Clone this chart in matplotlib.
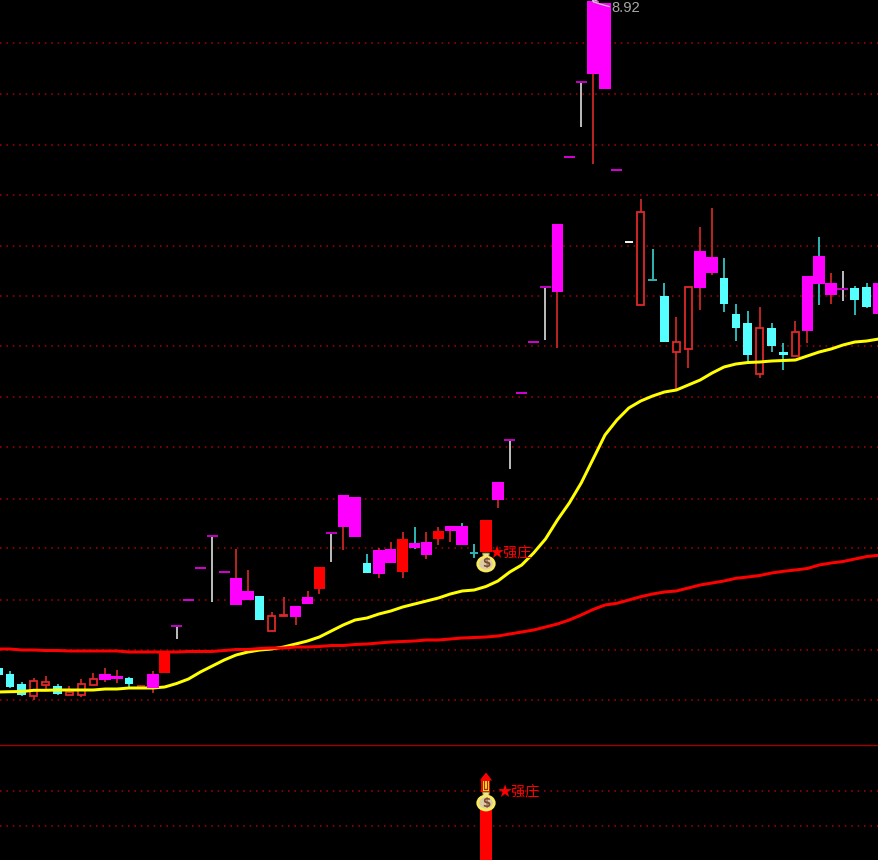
import matplotlib
matplotlib.use("Agg")
import matplotlib.pyplot as plt
import numpy as np
from matplotlib.patches import Ellipse, Polygon, Rectangle

plt.rcParams['font.family'] = ['Noto Sans CJK SC', 'DejaVu Sans']

# kinds: M magenta body, m magenta body + teal wick, C cyan body, R red solid, H hollow red,
# D magenta dash, F red dash, T grey stem + magenta cap, X teal stem + teal cap, W white dash
kinds = [
 'C','C','C','H','H','C','H','H','H','M','M','C','F','M','R','T','D','D','T','D','M','M','C','H','H','M',
 'M','R','T','M','M','C','M','M','R','m','M','R','M','m','X','R','M','T','D','D','T','M','D','T','M','M','D','W','H','X','C',
 'H','H','M','M','C','C','C','H','C','C','H','M','m','M','T','C','C','M']
body_top = [667.7,674.3,684.3,680.7,682,685.7,691.7,684.3,679.3,674.3,675.7,678,686,674.3,652,626,599.7,568.3,536,572.3,578.3,590.7,595.7,615.7,614.7,605.7,
 596.7,566.7,533.3,495.3,496.7,563,550.3,549.3,539.3,543,541.7,530.7,525.7,525.7,553.3,520.3,481.7,440,393.3,342,287,224.3,157,82.3,0.7,3.3,169.7,242,212,280,295.7,
 342.3,287,250.7,256.7,278.3,314.3,323.3,328.3,328.3,352,332.3,275.7,255.7,283.3,288.7,288.3,287,283.3]
body_bot = [675,686.7,695,696.3,685.3,694,695,695,685,680.3,679.3,684,686,687.7,672.7,626,599.7,568.3,536,572.3,605.3,600,620.3,631.3,616.3,616.7,
 604,589,533.3,526.7,536.7,572.7,574,563,571.7,548,555.3,539,531.3,545.3,553.3,552.3,500.3,440,393.3,342,287,291.7,157,82.3,73.7,89,169.7,242,305,280,341.7,
 352.3,348.7,287.7,272.7,304,327.7,355.3,373.7,346.3,355.3,356.3,331.3,283.7,295,288.7,300.3,306.7,314]
high = [664,670.7,682,678,675.7,683.5,685.7,679.3,672.7,668,670.3,676.7,686,670.7,652,626,599.7,568.3,536,572.3,549.3,570.3,595.7,611.7,597,605.7,
 590.7,566.7,533.3,495.3,496.7,554.3,548,541.7,531.7,526.7,531.7,526.7,525.7,523,544.3,520.3,481.7,440,393.3,342,287,224.3,157,82.3,0,3.3,169.7,242,199.3,249.3,283.3,
 316.7,287,227,208.3,258.3,304.3,310.7,306.7,323.3,343.3,320.7,275.7,236.7,273.3,270.7,285.7,283.3,283.3]
low = [675,688,696,700,690,695,695,696.7,685,681.7,682.7,686.7,686,692.7,672.7,639,599.7,568.3,601.7,572.3,605.3,600,620.3,631.3,616.3,625.3,
 604,594,561.7,550.3,536.7,572.7,577.7,563,577.7,549.3,559,545.3,541.7,545.3,557.7,552.3,507.7,469.3,393.3,342,340,347.7,157,126.7,163.7,89,169.7,242,305,280,341.7,
 389,367.7,310,275,311.7,340.7,360.7,377.7,351.7,370.3,356.3,342.7,305.3,304,301.3,315.3,308,314]
ma_slow_yellow = [692,691.7,691.5,690.3,690.3,690,690,690,690,689,689,688,688,688,687,683.5,679,672,666,660,655,652,650,649,647,644,
 641,637,631,625,620,618,614,611,607,604,601,598,594,591,590,586.5,581,572,565,553,539,520,503,483,459,435,420,408,401,396,392,
 390,385,380,373,367,364,362.5,362,361,360.5,360,356,352,349,345,342,341,339]
ma_long_red = [649,649,650,650,650.5,650.5,651,651,651,651,651,652,652,652,652,652,651.5,651.5,651.5,650.5,649.5,649.5,648.5,648,648,647,
 647,646.5,645.5,645.5,644.5,644,643,642,641.5,641,640,640,639,638,637.5,637,636,634,632,630,627,624,620,615,609.5,605,603.3,600,596.7,594,592,
 591,588,585,583,581,578.3,577,575.5,573,571.3,570,568.5,565,563,561.5,559,556.5,555.3]
grid_levels = [43,93.7,144.7,194.7,246,296,346,396.7,447.3,498.7,548.3,599.7,649.5,700,791,826]
signal_index = 41
peak_label = "8.92"
signal_label = "★强庄"

MAGENTA, CYAN, RED = '#FF00FF', '#55FFFF', '#FF0000'
DARKRED, TEAL = '#B52222', '#2FB0B0'

fig = plt.figure(figsize=(8.79, 8.6), dpi=100, facecolor='black')
ax = fig.add_axes([0, 0, 1, 1], facecolor='black')
ax.set_xlim(0, 879)
ax.set_ylim(860, 0)
ax.axis('off')
pt = 72 / 100
WICK = 2.0 * pt

x_first, x_step = -1.9, 11.9
xs = x_first + x_step * np.arange(len(kinds))

for y in grid_levels:
    ax.plot([0, 879], [y, y], color='#A00000', lw=1.6 * pt, dashes=(1.0, 3.0), zorder=1)
ax.plot([0, 879], [744.7, 744.7], color='#A00000', lw=1.4 * pt, zorder=1)

for x, k, t, b, h, l in zip(xs, kinds, body_top, body_bot, high, low):
    if k in 'MmR':
        wc = TEAL if k == 'm' else DARKRED
        ax.plot([x, x], [h, l], color=wc, lw=WICK, zorder=2, solid_capstyle='butt')
        ax.bar(x, b - t, 11.4, bottom=t, color=MAGENTA if k != 'R' else RED, lw=0, zorder=6)
    elif k == 'C':
        ax.plot([x, x], [h, l], color=TEAL, lw=WICK, zorder=2, solid_capstyle='butt')
        ax.bar(x, b - t, 8.8, bottom=t, color=CYAN, lw=0, zorder=3)
    elif k == 'H':
        ax.plot([x, x], [h, l], color=DARKRED, lw=WICK, zorder=2, solid_capstyle='butt')
        ax.bar(x, b - t, 7.0, bottom=t, facecolor='black', edgecolor='#E02828', lw=1.8 * pt, zorder=3)
    elif k == 'D':
        ax.plot([x - 5.5, x + 5.5], [t, t], color='#D000D0', lw=WICK, zorder=3, solid_capstyle='butt')
    elif k == 'F':
        ax.plot([x - 4.2, x + 4.2], [t, t], color=DARKRED, lw=WICK, zorder=3, solid_capstyle='butt')
    elif k == 'T':
        ax.plot([x, x], [h, l], color='#B8B8B8', lw=WICK, zorder=2, solid_capstyle='butt')
        ax.plot([x - 5.5, x + 5.5], [t, t], color='#C000C0', lw=WICK, zorder=3, solid_capstyle='butt')
    elif k == 'X':
        ax.plot([x, x], [h, l], color=TEAL, lw=WICK, zorder=2, solid_capstyle='butt')
        ax.plot([x - 4.2, x + 4.2], [t, t], color=TEAL, lw=WICK, zorder=3, solid_capstyle='butt')
    elif k == 'W':
        ax.plot([x - 3.8, x + 3.8], [t, t], color='#F0F0F0', lw=WICK, zorder=3, solid_capstyle='butt')

ax.plot(xs, ma_slow_yellow, color='#FFFF00', lw=3.0 * pt, zorder=4)
ax.plot(xs, ma_long_red, color=RED, lw=3.0 * pt, zorder=5)


def money_bag(cx, cy):
    ax.add_patch(Polygon([[cx - 3.5, cy - 9.5], [cx + 3.5, cy - 9.5], [cx + 2.5, cy - 4], [cx - 2.5, cy - 4]],
                         closed=True, fc='#EFE2A8', ec='#8A6A20', lw=0.7, zorder=8))
    ax.add_patch(Ellipse((cx, cy + 1.5), 16.5, 14, fc='#DCCCA6', ec='#F8EA60', lw=2.0, zorder=8))
    ax.text(cx, cy + 1.5, '$', color='#7A4A30', fontsize=8.5, fontweight='bold', family='DejaVu Sans',
            ha='center', va='center', zorder=9)


sx = xs[signal_index]
money_bag(sx, 562.5)
ax.text(sx + 3.5, 552, signal_label, color=RED, fontsize=10.2, ha='left', va='center', zorder=9)

# lower pane
ax.bar(sx, 50, 11.8, bottom=810, color=RED, lw=0, zorder=6)
ax.add_patch(Polygon([[sx, 772.5], [sx + 6.2, 780.5], [sx - 6.2, 780.5]], closed=True, fc=RED, lw=0, zorder=7))
ax.add_patch(Rectangle((sx - 4.5, 780), 9, 12, fc=RED, lw=0, zorder=7))
ax.add_patch(Rectangle((sx - 3.4, 780.5), 6.8, 10.5, fc='#FFFF20', lw=0, zorder=7))
ax.plot([sx - 1.5, sx - 1.5, sx + 1.5, sx + 1.5], [781, 788.5, 788.5, 781], color='#A83000', lw=1.4 * pt, zorder=7)
money_bag(sx, 801.5)
ax.text(sx + 11, 791, signal_label, color=RED, fontsize=10.2, ha='left', va='center', zorder=9)

# peak label
ax.plot([594, 600, 609], [2, 4, 6.5], color='#C8C8C8', lw=1.3 * pt, zorder=9)
ax.plot([594, 592.5, 594, 597], [2, 0.8, 0, 1], color='#C8C8C8', lw=1.3 * pt, zorder=9)
ax.text(611, 7.5, peak_label, color='#A8A8A8', fontsize=10.6, family='Liberation Sans', ha='left', va='center', zorder=9)

fig.savefig('out.png', dpi=100, facecolor='black')
